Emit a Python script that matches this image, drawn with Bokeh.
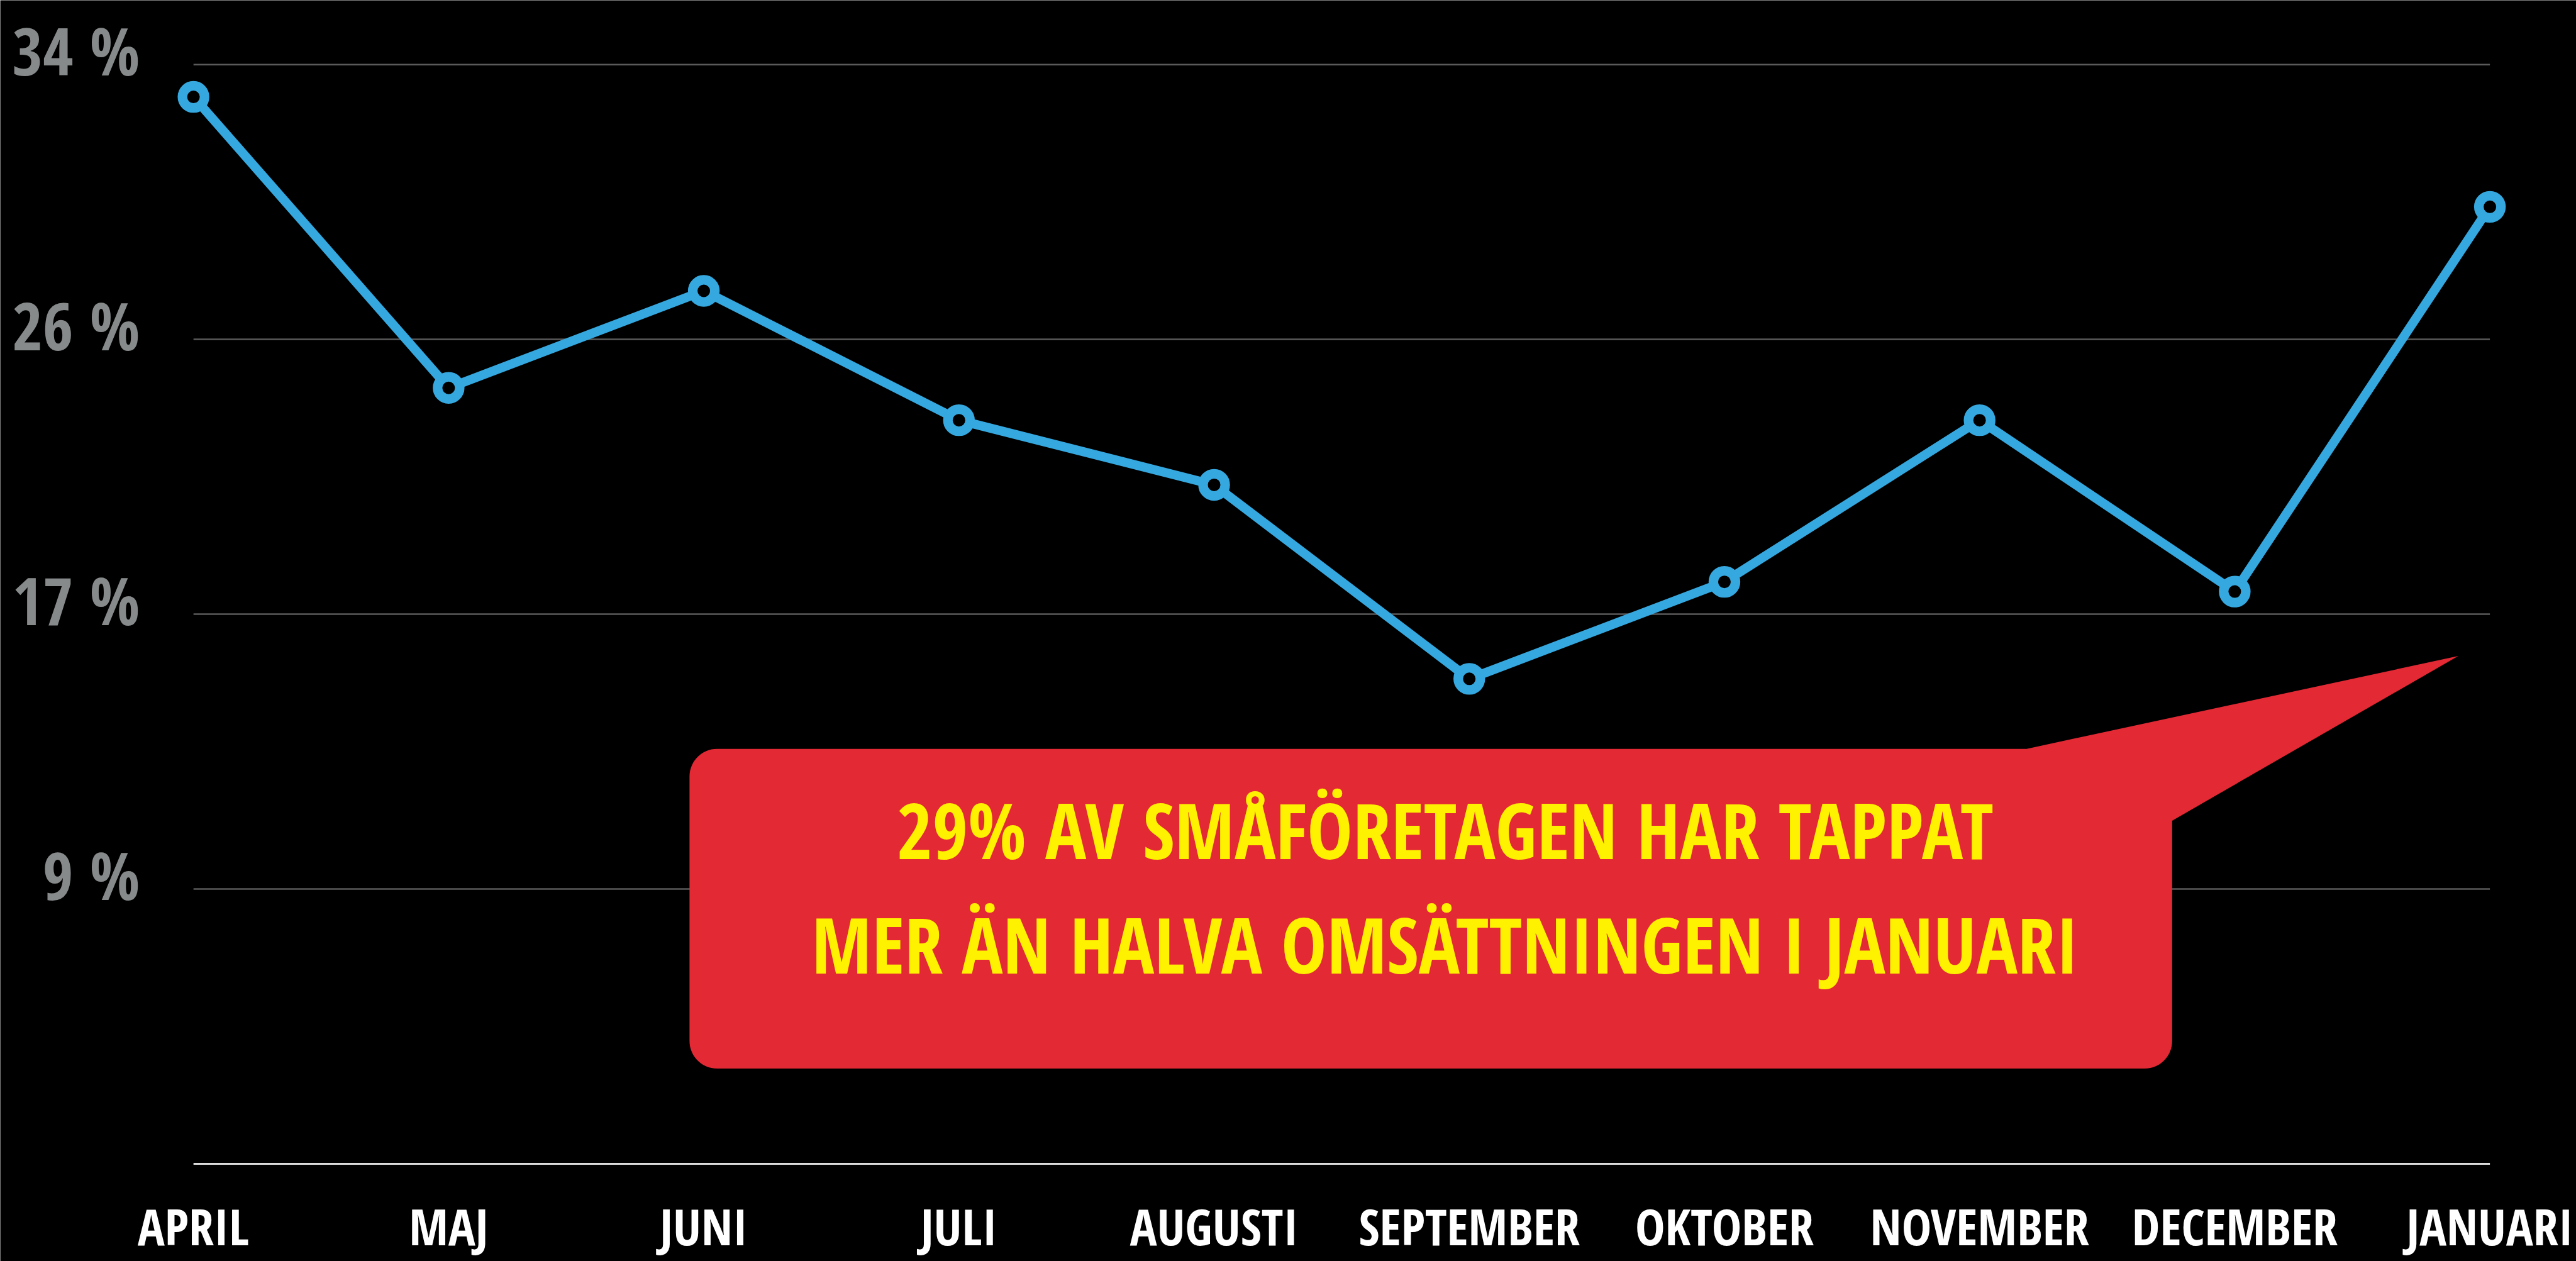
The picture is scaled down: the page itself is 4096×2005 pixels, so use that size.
import numpy as np
from bokeh.plotting import figure
from bokeh.embed import file_html
from bokeh.resources import INLINE
from bokeh.core.properties import value
from bokeh.models import Range1d

# ---------------- data ----------------
months = ["APRIL", "MAJ", "JUNI", "JULI", "AUGUSTI", "SEPTEMBER",
          "OKTOBER", "NOVEMBER", "DECEMBER", "JANUARI"]
share = [33, 24, 27, 23, 21, 15, 18, 23, 17.7, 29.6]
y_ticks = [8.5, 17, 25.5, 34]
y_tick_labels = ["9 %", "17 %", "26 %", "34 %"]
callout_lines = ["29% AV SMÅFÖRETAGEN HAR TAPPAT",
                 "MER ÄN HALVA OMSÄTTNINGEN I JANUARI"]

# ---------------- layout ----------------
S = 4096 / 4302           # scale from the reference
W, H = 4096, 2005         # figure size

def fx(X):                # reference px -> figure px (from left)
    return X * S

def fy(Y):                # reference px -> figure px (from top)
    return Y * S

X_FIRST, X_LAST = 322.6, 4157.7     # reference px of first / last month
Y_ZERO, Y_TOP = 1943.0, 107.3       # reference px of 0 % and 34 %
n = len(months)
ppx = (fx(X_LAST) - fx(X_FIRST)) / (n - 1)
ppy = (fy(Y_ZERO) - fy(Y_TOP)) / max(y_ticks)

def dx(X):
    return (fx(X) - fx(X_FIRST)) / ppx

def dy(Y):
    return (fy(Y_ZERO) - fy(Y)) / ppy

x_range = Range1d(dx(0), dx(W / S))
y_range = Range1d(dy(H / S), dy(0))

FONT = value("Open Sans Condensed")
MID = 0.031               # em offset between text middle and cap middle
BLUE = "#35a8e0"
RED = "#e22934"
YELLOW = "#fff200"

p = figure(width=W, height=H, output_backend="svg", toolbar_location=None,
           x_range=x_range, y_range=y_range, min_border=0,
           x_axis_type=None, y_axis_type=None,
           background_fill_color="black", border_fill_color="black",
           outline_line_color=None)
p.grid.visible = False

xs = list(range(n))

# grid lines and baseline
p.segment(x0=[0] * len(y_ticks), x1=[n - 1] * len(y_ticks), y0=y_ticks, y1=y_ticks,
          line_color="#5a5a5a", line_width=2.5)
p.segment(x0=[0], x1=[n - 1], y0=[0], y1=[0], line_color="#dcdcdc", line_width=3)

# y tick labels
YS = 105
p.text(x=[0] * len(y_ticks), y=y_ticks, text=y_tick_labels,
       x_offset=(233 - X_FIRST) * S, y_offset=-21 * S - MID * YS,
       text_align="right", text_baseline="middle",
       text_font=FONT, text_font_style="bold", text_font_size=f"{YS}px",
       text_color="#878a8b")

# month labels
XS = 80
p.text(x=xs, y=[0] * n, text=months, y_offset=117 * S - MID * XS - 11,
       text_align="center", text_baseline="middle",
       text_font=FONT, text_font_style="normal", text_font_size=f"{XS}px",
       text_color="white")

# line + ring markers
p.line(xs, share, line_color=BLUE, line_width=14.5, line_join="round")
p.scatter(xs, share, size=35.2, fill_color="black", line_color=BLUE, line_width=15.2)

# callout bubble (reference pixels -> data)
L, R, T, B, r = 1151, 3627, 1250, 1784, 46
tail = [(3384, T), (4105, 1095), (R, 1370)]

def arc(cx, cy, a0, a1, k=16):
    a = np.linspace(np.radians(a0), np.radians(a1), k)
    return list(zip(cx + r * np.cos(a), cy + r * np.sin(a)))

pts = [(L + r, T)] + tail + [(R, B - r)]
pts += arc(R - r, B - r, 0, 90)
pts += arc(L + r, B - r, 90, 180)
pts += arc(L + r, T + r, 180, 270)
bx = [dx(px) for px, _ in pts]
by = [dy(py) for _, py in pts]
p.patch(bx, by, fill_color=RED, line_color=None)

CS = 122
p.text(x=[dx(2413)] * 2, y=[dy(1382.5), dy(1573.5)], text=callout_lines,
       y_offset=-MID * CS + 6,
       text_align="center", text_baseline="middle",
       text_font=FONT, text_font_style="bold", text_font_size=f"{CS}px",
       text_color=YELLOW)

open("out.html", "w").write(file_html(p, INLINE))
